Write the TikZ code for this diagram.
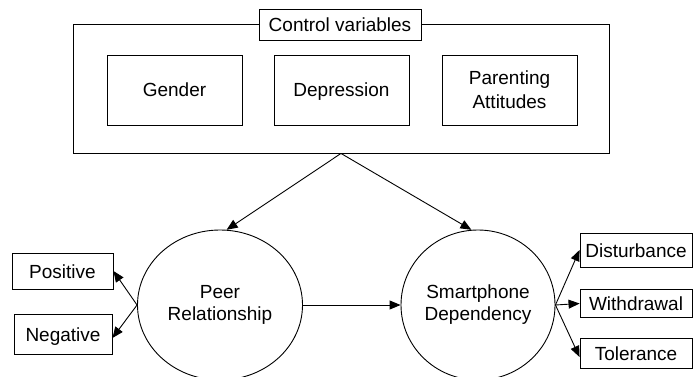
\documentclass[tikz,border=0pt]{standalone}
\usepackage{fontspec}
\setmainfont{Liberation Sans}
\usetikzlibrary{arrows.meta,shapes.geometric}
\begin{document}
\begin{tikzpicture}[x=1pt,y=-1pt,
  font=\fontsize{19}{22}\selectfont,
  line width=0.9pt,
  box/.style={draw, rectangle, inner sep=0pt, align=center},
  single/.style={text height=17pt, text depth=3pt},
  latent/.style={draw, ellipse, inner sep=0pt, align=center},
  arr/.style={-{Triangle[length=11pt,width=9pt]}}]
\useasboundingbox (0,0) rectangle (693,377);
\fill[white] (0,0) rectangle (693,377);
% control block
\node[box, minimum width=536pt, minimum height=129pt] (outer) at (341,88.5) {};
\node[box, single, fill=white, minimum width=162pt, minimum height=31pt] (ctrl) at (340,24.5) {Control variables};
\node[box, single, minimum width=135pt, minimum height=70pt] (gender) at (174.5,90) {Gender};
\node[box, single, minimum width=135pt, minimum height=70pt] (depr) at (341.5,90) {Depression};
\node[box, minimum width=135pt, minimum height=70pt] (par) at (509.5,90) {Parenting\\[2pt]Attitudes};
% latent
\node[latent, minimum width=165pt, minimum height=150pt] (peer) at (220,305) {Peer\\Relationship};
\node[latent, minimum width=154pt, minimum height=150pt] (smart) at (478,305) {Smartphone\\Dependency};
% indicators
\node[box, single, minimum width=101pt, minimum height=36pt] (pos) at (62.5,271) {Positive};
\node[box, single, minimum width=98pt, minimum height=40pt] (neg) at (63,334) {Negative};
\node[box, single, minimum width=112pt, minimum height=34pt] (dist) at (636,250) {Disturbance};
\node[box, single, minimum width=112pt, minimum height=28pt] (with) at (636,303.5) {Withdrawal};
\node[box, single, minimum width=112pt, minimum height=30pt] (tol) at (636,353) {Tolerance};
% connectors
\draw[arr] (outer.south) -- (peer.85);
\draw[arr] (outer.south) -- (smart.95);
\draw[arr] (peer.west) -- (pos.east);
\draw[arr] (peer.west) -- ([yshift=-4pt]neg.east);
\draw[arr] (peer.east) -- (smart.west);
\draw[arr] (smart.east) -- (dist.west);
\draw[arr] (smart.east) -- (with.west);
\draw[arr] (smart.east) -- ([yshift=-4pt]tol.west);
\end{tikzpicture}
\end{document}
